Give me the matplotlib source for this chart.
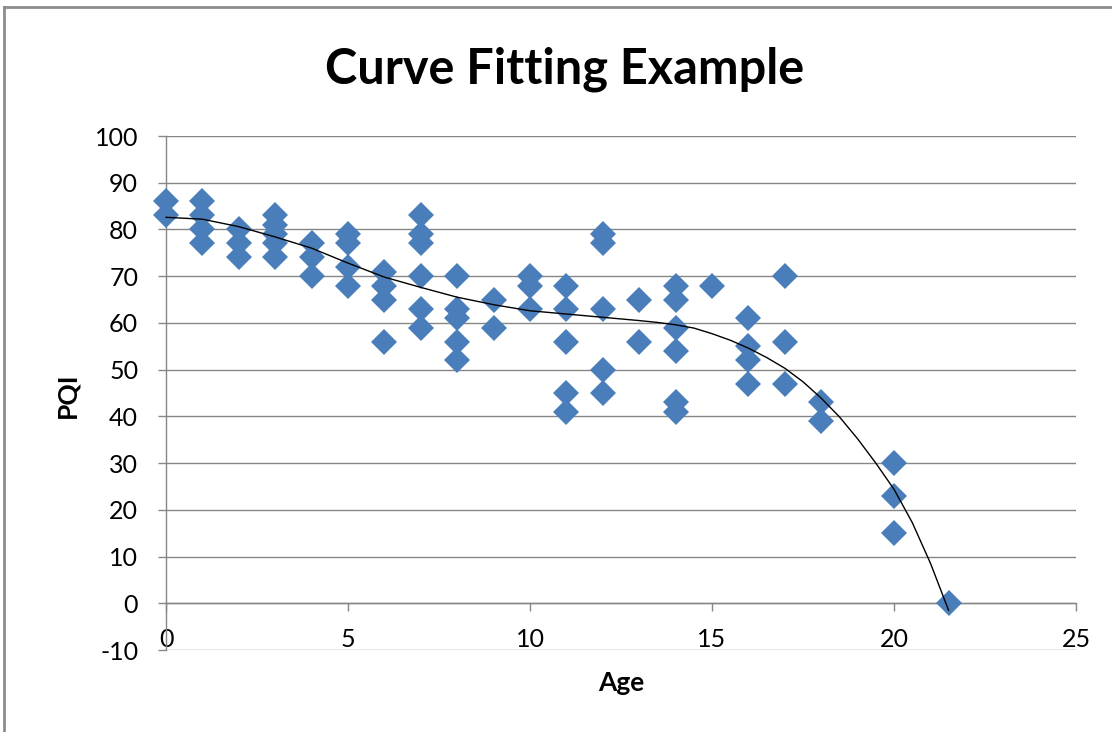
import numpy as np
import matplotlib
matplotlib.use('Agg')
import matplotlib.pyplot as plt
from matplotlib.lines import Line2D

plt.rcParams['font.family'] = ['Lato', 'DejaVu Sans']
plt.rcParams['axes.unicode_minus'] = False

# Data: age groups and the PQI values at each age
age_groups = [0, 1, 2, 3, 4, 5, 6, 7, 8, 9, 10, 11, 12, 13, 14, 15, 16, 17, 18, 20, 21.5]
pqi_values = [
    [86, 83],
    [86, 83, 80, 77],
    [80, 77, 74],
    [83, 81, 79, 77, 74],
    [77, 74, 70],
    [79, 77, 72, 68],
    [71, 68, 65, 56],
    [83, 79, 77, 70, 63, 59],
    [70, 63, 61, 56, 52],
    [65, 59],
    [70, 68, 63],
    [68, 63, 56, 45, 41],
    [79, 77, 63, 50, 45],
    [65, 56],
    [68, 65, 59, 54, 43, 41],
    [68],
    [61, 55, 52, 47],
    [70, 56, 47],
    [43, 39],
    [30, 23, 15],
    [0],
]

# Trendline
trend_x = [0, 1, 2, 3, 4, 5, 6, 7, 8, 9, 10, 11, 12, 13, 13.5, 14, 14.5, 15, 15.5,
           16, 16.5, 17, 17.5, 18, 18.5, 19, 19.5, 20, 20.5, 21, 21.5]
trend_y = [82.6, 82.2, 80.6, 78.4, 76.0, 72.8, 69.8, 67.6, 65.5, 63.9, 62.6, 61.9,
           61.2, 60.5, 60.1, 59.6, 58.9, 57.7, 56.3, 54.6, 52.6, 50.3, 47.4, 43.9,
           39.9, 35.2, 30.0, 24.4, 17.3, 8.6, -1.5]

x_ticks = [0, 5, 10, 15, 20, 25]
y_ticks = [-10, 0, 10, 20, 30, 40, 50, 60, 70, 80, 90, 100]

# Flatten into x / y arrays
ages = np.array([a for a, vals in zip(age_groups, pqi_values) for _ in vals], dtype=float)
pqi = np.array([v for vals in pqi_values for v in vals], dtype=float)

W, H = 1112, 732
fig = plt.figure(figsize=(W / 100, H / 100), dpi=100)
ax = fig.add_axes([166 / W, 1 - 650 / H, (1076 - 166) / W, (650 - 136) / H])

grey = '#868686'

ax.plot(ages, pqi, linestyle='none', marker='D', markersize=13,
        color='#4A7EBB', markeredgewidth=0, zorder=3, clip_on=False)
ax.plot(trend_x, trend_y, color='black', linewidth=1.0, zorder=4, clip_on=False)

ax.set_xlim(0, 25)
ax.set_ylim(-10, 100)
ax.set_xticks(x_ticks)
ax.set_yticks(y_ticks)

# Horizontal gridlines only
ax.yaxis.grid(True, color=grey, linewidth=1.0)
ax.set_axisbelow(True)

for side in ['top', 'right']:
    ax.spines[side].set_visible(False)
ax.spines['bottom'].set_position(('data', 0))
ax.spines['bottom'].set_color(grey)
ax.spines['left'].set_color(grey)
ax.spines['bottom'].set_linewidth(1.0)
ax.spines['left'].set_linewidth(1.0)

ax.tick_params(axis='y', direction='out', length=6, width=1.0, color=grey,
               pad=14, labelsize=18)
ax.tick_params(axis='x', direction='out', length=6, width=1.0, color=grey,
               pad=12, labelsize=18)

# Title and axis labels
fig.text(565 / W, 1 - 83 / H, 'Curve Fitting Example', ha='center', va='baseline',
         fontsize=35, fontweight='bold')
fig.text(67 / W, 1 - 395 / H, 'PQI', rotation=90, ha='center', va='center',
         fontsize=19, fontweight='bold')
fig.text(621 / W, 1 - 691 / H, 'Age', ha='center', va='baseline',
         fontsize=19, fontweight='bold')

# Chart area border (runs off the right and bottom edges)
fig.add_artist(Line2D([4 / W, 4 / W], [0, 1 - 7 / H], color='#8c8c8c', linewidth=2,
                      transform=fig.transFigure))
fig.add_artist(Line2D([4 / W, 1], [1 - 7 / H, 1 - 7 / H], color='#8c8c8c', linewidth=2,
                      transform=fig.transFigure))

fig.savefig('out.png', dpi=100)
